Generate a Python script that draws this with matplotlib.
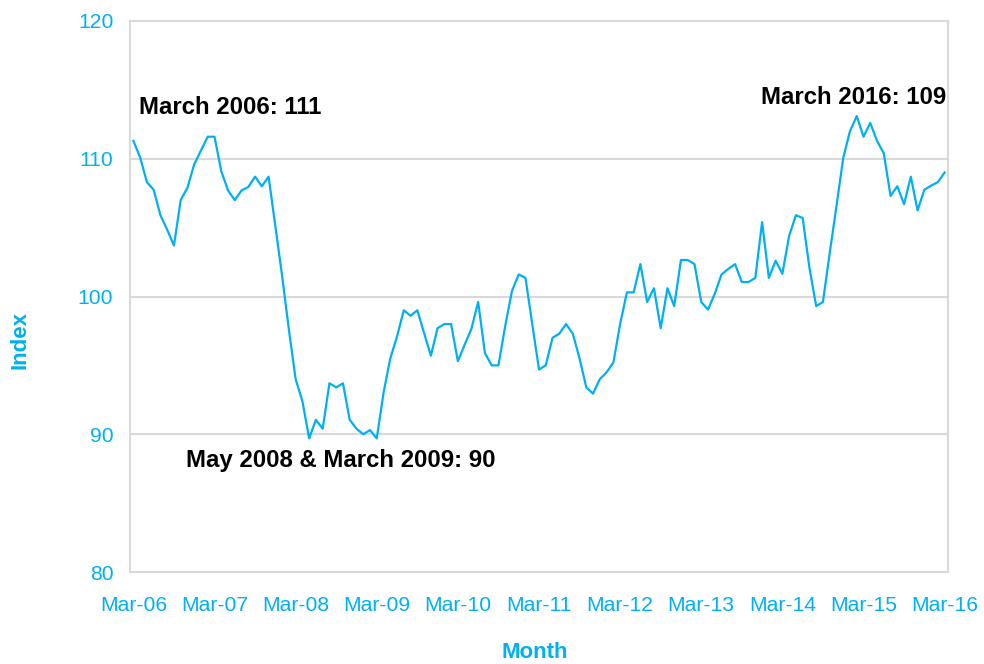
import matplotlib
matplotlib.use("Agg")
import matplotlib.pyplot as plt

plt.rcParams['font.family'] = ['Liberation Sans', 'DejaVu Sans']

BLUE = '#00b0f0'
GRID = '#d9d9d9'

# monthly index, Mar-06 .. Mar-16
index_values = [
    111.3, 110.1, 108.3, 107.75, 105.9, 104.85, 103.7, 107.0, 107.9, 109.6,   # Mar-06 .. Dec-06
    110.6, 111.6, 111.6, 109.1, 107.7, 107.0, 107.7, 107.95, 108.7, 108.0,    # Jan-07 .. Oct-07
    108.7, 105.1, 101.5, 97.6, 94.0, 92.4, 89.7, 91.05, 90.4, 93.7,           # Nov-07 .. Aug-08
    93.4, 93.7, 91.05, 90.4, 90.0, 90.3, 89.7, 93.0, 95.5, 97.1,              # Sep-08 .. Jun-09
    99.0, 98.6, 99.0, 97.35, 95.7, 97.7, 98.0, 98.0, 95.3, 96.5,              # Jul-09 .. Apr-10
    97.65, 99.6, 95.9, 95.0, 95.0, 97.85, 100.4, 101.6, 101.35, 98.0,         # May-10 .. Feb-11
    94.7, 95.0, 97.0, 97.3, 98.0, 97.3, 95.5, 93.4, 92.95, 94.0,              # Mar-11 .. Dec-11
    94.5, 95.2, 98.0, 100.3, 100.3, 102.35, 99.6, 100.6, 97.7, 100.6,         # Jan-12 .. Oct-12
    99.3, 102.65, 102.65, 102.35, 99.6, 99.05, 100.2, 101.6, 102.0, 102.35,   # Nov-12 .. Aug-13
    101.05, 101.05, 101.35, 105.4, 101.35, 102.6, 101.65, 104.4, 105.9, 105.7,  # Sep-13 .. Jun-14
    102.1, 99.3, 99.6, 103.15, 106.55, 110.05, 112.0, 113.1, 111.6, 112.6,    # Jul-14 .. Apr-15
    111.3, 110.4, 107.3, 108.0, 106.7, 108.7, 106.25, 107.75, 108.05, 108.3,  # May-15 .. Feb-16
    109.0,                                                                    # Mar-16
]
tick_labels = ['Mar-06', 'Mar-07', 'Mar-08', 'Mar-09', 'Mar-10', 'Mar-11',
               'Mar-12', 'Mar-13', 'Mar-14', 'Mar-15', 'Mar-16']
y_ticks = [80, 90, 100, 110, 120]
notes = ['March 2006: 111', 'May 2008 & March 2009: 90', 'March 2016: 109']

months = list(range(len(index_values)))

fig = plt.figure(figsize=(9.84, 6.64), dpi=100)
ax = fig.add_axes([130 / 984, 1 - 572 / 664, 818 / 984, 551 / 664])

for y in y_ticks[1:-1]:
    ax.axhline(y, color=GRID, lw=1.5, zorder=0)

ax.plot(months, index_values, color=BLUE, lw=1.6, zorder=2)

ax.set_xlim(-0.5, len(index_values) - 0.5)
ax.set_ylim(80, 120)
ax.set_yticks(y_ticks)
ax.set_xticks(months[::12])
ax.set_xticklabels(tick_labels)
ax.tick_params(axis='both', length=0, labelsize=15.2, labelcolor=BLUE)
ax.tick_params(axis='x', pad=17)
ax.tick_params(axis='y', pad=12)

for s in ax.spines.values():
    s.set_color(GRID)
    s.set_linewidth(1.5)

# axis titles
fig.text(20 / 984, 1 - 340 / 664, 'Index', color=BLUE, fontsize=16,
         fontweight='bold', rotation=90, ha='center', va='center')
fig.text(535 / 984, 1 - 653 / 664, 'Month', color=BLUE, fontsize=16,
         fontweight='bold', ha='center', va='center')

# annotations
ax.text(months[0] + 0.8, 113.75, notes[0], fontsize=17.3, fontweight='bold',
        color='black', ha='left', va='center')
ax.text(7.8, 88.1, notes[1], fontsize=17.3, fontweight='bold',
        color='black', ha='left', va='center')
ax.text(months[-1] + 0.2, 114.45, notes[2], fontsize=17.3, fontweight='bold',
        color='black', ha='right', va='center')

fig.savefig('out.png', dpi=100)
